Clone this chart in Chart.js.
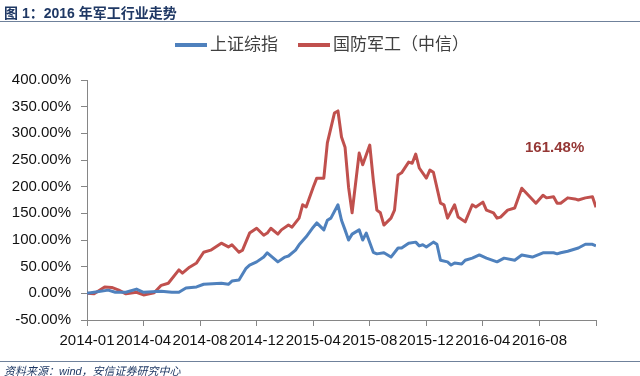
<!DOCTYPE html>
<html>
<head>
<meta charset="utf-8">
<script src="https://cdn.jsdelivr.net/npm/chart.js@4"></script>
<style>
    body { margin: 0; background: #fff; }
    #wrap { position: relative; width: 640px; height: 376px; overflow: hidden; font-family: "Liberation Sans", "Noto Sans CJK SC", sans-serif; }
    #chart { position: absolute; left: 0; top: 0; }
    .title { position: absolute; left: 4px; top: 2px; font-size: 14px; font-weight: bold; color: #1f3864; white-space: nowrap; }
    .rule { position: absolute; left: 0; width: 640px; height: 1px; background: #6f819b; }
    .legend { position: absolute; top: 34px; font-size: 17px; color: #404040; white-space: nowrap; line-height: 22px; }
    .legend i { display: inline-block; width: 32px; height: 4px; vertical-align: middle; margin-right: 3px; position: relative; top: -1px; }
    .note { position: absolute; left: 525px; top: 138px; font-size: 15px; font-weight: bold; color: #953735; }
    .source { position: absolute; left: 4px; top: 362px; font-size: 11px; font-style: italic; color: #1f3864; white-space: nowrap; }
</style>
</head>
<body>
<div id="wrap">
    <canvas id="chart" width="640" height="376"></canvas>
    <div class="title">图 1：2016 年军工行业走势</div>
    <div class="rule" style="top:21px"></div>
    <div class="legend" style="left:175px"><i style="background:#4f81bd"></i>上证综指</div>
    <div class="legend" style="left:298px"><i style="background:#c0504d"></i>国防军工（中信）</div>
    <div class="note">161.48%</div>
    <div class="rule" style="top:361px"></div>
    <div class="source">资料来源：wind，安信证券研究中心</div>
</div>
<script>
// x = week index since the first week of 2014-01
const tickLabels = ['2014-01', '2014-04', '2014-08', '2014-12', '2015-04', '2015-08', '2015-12', '2016-04', '2016-08'];

const blueWeeks = [0, 2, 6, 8, 11, 14, 16, 21, 24, 26, 28, 31, 33, 38, 40, 41, 43, 45, 46, 48, 50, 51, 54, 56, 57, 59, 60, 62, 64, 65, 67, 68, 69, 71, 72, 73, 74, 75, 77, 78, 79, 81, 82, 84, 86, 88, 89, 91, 93, 94, 95, 96, 98, 99, 100, 102, 103, 104, 106, 107, 109, 111, 113, 116, 118, 121, 123, 126, 129, 132, 133, 134, 136, 139, 141, 143, 144];
const blueValues = [0, 2, 6, 2, 2, 8, 2, 4, 2, 2, 10, 12, 17, 19, 17, 23, 25, 47, 53, 59, 68, 76, 59, 68, 70, 81, 91, 106, 124, 132, 119, 137, 141, 166, 137, 119, 100, 111, 119, 100, 113, 77, 74, 76, 68, 85, 85, 94, 96, 89, 91, 87, 96, 92, 62, 59, 53, 57, 55, 62, 66, 72, 66, 59, 66, 62, 72, 68, 76, 76, 74, 76, 79, 85, 92, 92, 89];

const redWeeks = [0, 2, 5, 7, 9, 11, 14, 16, 19, 21, 23, 26, 27, 29, 31, 33, 35, 38, 40, 41, 43, 44, 46, 48, 50, 51, 52, 54, 55, 57, 58, 60, 61, 62, 64, 65, 67, 68, 70, 71, 72, 73, 74, 75, 77, 78, 80, 81, 82, 83, 84, 86, 87, 88, 89, 91, 92, 93, 94, 96, 97, 98, 100, 101, 102, 104, 105, 107, 109, 110, 112, 113, 115, 116, 117, 119, 121, 123, 124, 127, 129, 130, 132, 133, 134, 136, 138, 139, 141, 143, 144];
const redValues = [0, -1, 12, 11, 6, -1, 2, -3, 1, 15, 19, 44, 38, 49, 57, 77, 81, 94, 87, 91, 77, 81, 113, 122, 109, 113, 122, 111, 119, 128, 124, 141, 166, 162, 199, 216, 216, 282, 338, 342, 293, 274, 199, 151, 263, 241, 278, 212, 156, 151, 128, 141, 156, 222, 226, 246, 244, 261, 235, 216, 231, 227, 169, 166, 141, 166, 143, 134, 166, 162, 171, 156, 151, 141, 143, 156, 160, 197, 190, 169, 184, 179, 181, 169, 169, 179, 177, 175, 179, 181, 161.48];

const toPoints = (xs, ys) => xs.map((x, i) => ({ x: x, y: ys[i] }));
const axisColor = '#868686';
const labelFont = { family: 'Liberation Sans', size: 15 };

new Chart(document.getElementById('chart').getContext('2d'), {
    type: 'line',
    data: {
        datasets: [
            {
                label: '上证综指',
                data: toPoints(blueWeeks, blueValues),
                borderColor: '#4f81bd',
                borderWidth: 3,
                pointRadius: 0,
                tension: 0,
                borderJoinStyle: 'round'
            },
            {
                label: '国防军工（中信）',
                data: toPoints(redWeeks, redValues),
                borderColor: '#c0504d',
                borderWidth: 3,
                pointRadius: 0,
                tension: 0,
                borderJoinStyle: 'round'
            }
        ]
    },
    options: {
        responsive: false,
        animation: false,
        layout: { padding: { left: 0, right: 44, top: 80, bottom: 0 } },
        plugins: {
            legend: { display: false },
            tooltip: { enabled: false }
        },
        scales: {
            x: {
                type: 'linear',
                min: 0,
                max: 144,
                afterFit: scale => { scale.height = 56; },
                border: { color: axisColor },
                grid: { drawOnChartArea: false, tickLength: 6, color: axisColor },
                ticks: {
                    stepSize: 16,
                    autoSkip: false,
                    maxRotation: 0,
                    padding: 6,
                    color: '#111',
                    font: labelFont,
                    callback: value => tickLabels[value / 16] || ''
                }
            },
            y: {
                min: -50,
                max: 400,
                afterFit: scale => { scale.width = 87; },
                border: { color: axisColor },
                grid: { drawOnChartArea: false, tickLength: 6, color: axisColor },
                ticks: {
                    stepSize: 50,
                    padding: 10,
                    color: '#111',
                    font: labelFont,
                    callback: value => value.toFixed(2) + '%'
                }
            }
        }
    }
});
</script>
</body>
</html>
